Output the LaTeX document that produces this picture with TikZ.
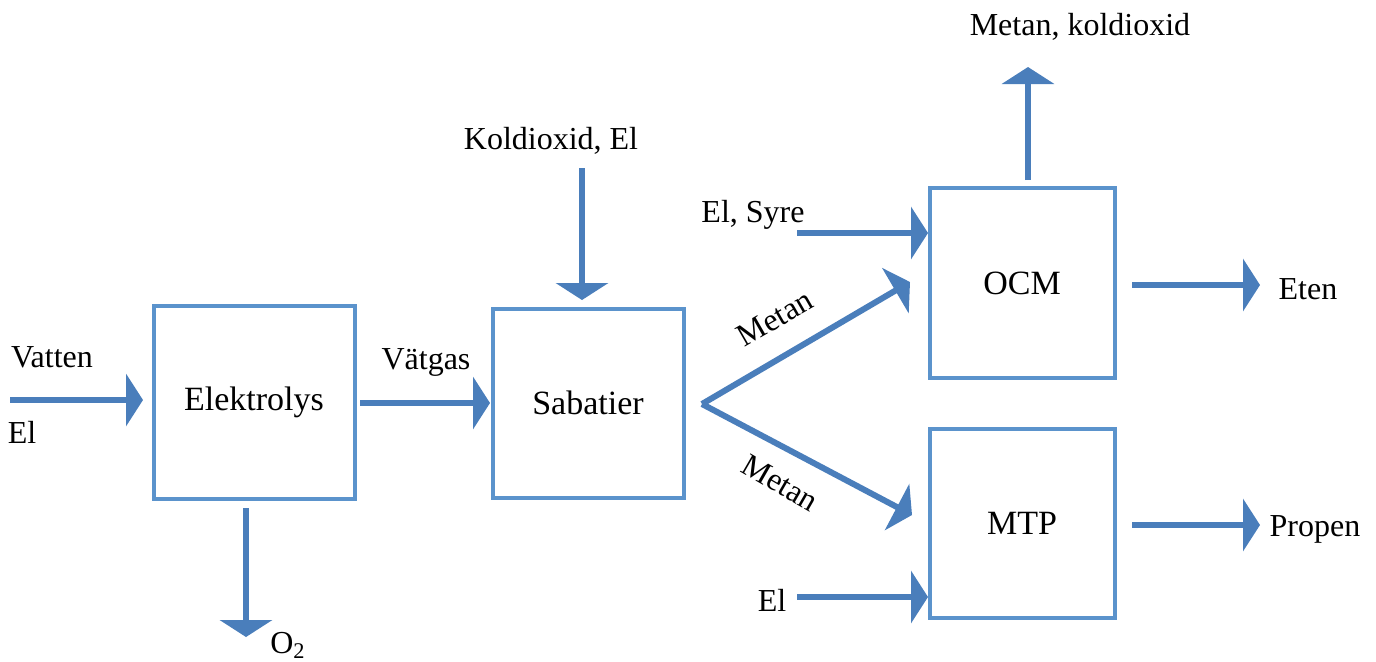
\documentclass[tikz,border=0pt]{standalone}
\usepackage{fontspec}
\setmainfont{Liberation Serif}
\usetikzlibrary{arrows.meta}
\definecolor{boxblue}{RGB}{91,147,204}
\definecolor{arrblue}{RGB}{74,126,187}
\begin{document}
\begin{tikzpicture}[x=0.5pt,y=-0.5pt,
  box/.style={draw=boxblue,line width=2pt,inner sep=0pt,font=\fontsize{17}{20}\selectfont},
  flow/.style={draw=arrblue,line width=3pt,-{Triangle[width=26pt,length=8.5pt]}},
  lbl/.style={inner sep=0pt,font=\fontsize{16}{19}\selectfont}]
\useasboundingbox (0,0) rectangle (1376,661);
% boxes
\node[box,minimum width=100.5pt,minimum height=96.5pt] (elek) at (254,402) {Elektrolys};
\node[box,minimum width=95.5pt,minimum height=94.5pt] (sab) at (588,403) {Sabatier};
\node[box,minimum width=92.5pt,minimum height=95pt] (ocm) at (1022,283) {OCM};
\node[box,minimum width=92.5pt,minimum height=94.5pt] (mtp) at (1022,523) {MTP};
% labels
\node[lbl] (vatten) at (52,357) {Vatten};
\node[lbl] (el1) at (22,432) {El};
\node[lbl] (vatgas) at (426,362) {Vätgas};
\node[lbl] (kold) at (551,141) {Koldioxid, El};
\node[lbl] (elsyre) at (753,215) {El, Syre};
\node[lbl] (el2) at (772,600) {El};
\node[lbl] (o2) at (288,645) {O\textsubscript{2}};
\node[lbl] (metkol) at (1080,27) {Metan, koldioxid};
\node[lbl] (eten) at (1308,289) {Eten};
\node[lbl] (propen) at (1315,529) {Propen};
\node[lbl,rotate=30] (metan1) at (775,318) {Metan};
\node[lbl,rotate=-30] (metan2) at (780,483) {Metan};
% coordinates
\coordinate (a1s) at (10,400);   \coordinate (a1e) at (143,400);
\coordinate (a2s) at (360,403);  \coordinate (a2e) at (490,403);
\coordinate (a3s) at (246,508);  \coordinate (a3e) at (246,637);
\coordinate (a4s) at (582,168);  \coordinate (a4e) at (582,300);
\coordinate (a5s) at (797,233);  \coordinate (a5e) at (928,233);
\coordinate (a6s) at (797,597);  \coordinate (a6e) at (928,597);
\coordinate (a7s) at (1028,180); \coordinate (a7e) at (1028,67);
\coordinate (a8s) at (1132,285); \coordinate (a8e) at (1260,285);
\coordinate (a9s) at (1132,525); \coordinate (a9e) at (1260,525);
\coordinate (vx) at (702,404);
\coordinate (mup) at (910,282);  \coordinate (mdn) at (912,515);
% arrows
\draw[flow] (a1s) -- (a1e);
\draw[flow] (a2s) -- (a2e);
\draw[flow] (a3s) -- (a3e);
\draw[flow] (a4s) -- (a4e);
\draw[flow] (a5s) -- (a5e);
\draw[flow] (a6s) -- (a6e);
\draw[flow] (a7s) -- (a7e);
\draw[flow] (a8s) -- (a8e);
\draw[flow] (a9s) -- (a9e);
\draw[flow] (vx) -- (mup);
\draw[flow] (vx) -- (mdn);
\end{tikzpicture}
\end{document}
